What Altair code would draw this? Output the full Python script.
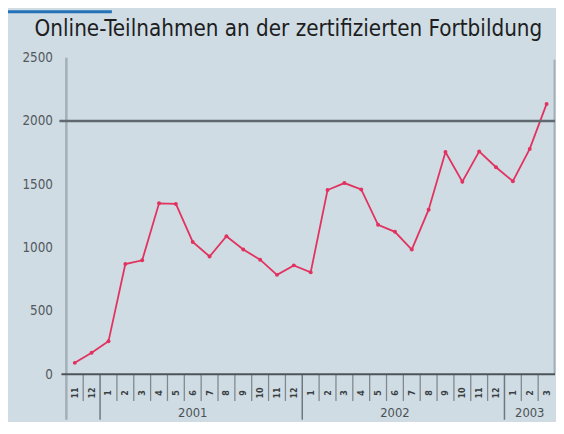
import altair as alt
import pandas as pd

# ---- data ----
month_labels = ["11", "12",
                "1", "2", "3", "4", "5", "6", "7", "8", "9", "10", "11", "12",
                "1", "2", "3", "4", "5", "6", "7", "8", "9", "10", "11", "12",
                "1", "2", "3"]
values = [90, 170,
          260, 870, 900, 1350, 1345, 1045, 930, 1090, 985, 905, 785, 860,
          805, 1455, 1510, 1460, 1180, 1125, 985, 1300, 1755, 1520, 1760, 1635,
          1525, 1780, 2135]
year_labels = ["2001", "2002", "2003"]
year_label_pos = [7, 19, 27]          # month index under which each year label sits
year_breaks = [1, 13, 25]             # index of last month before a new year
y_ticks = [0, 500, 1000, 1500, 2000, 2500]
reference_value = 2000
title_text = "Online-Teilnahmen an der zertifizierten Fortbildung"

# ---- tables ----
n = len(values)
df = pd.DataFrame({"idx": list(range(n)), "value": values, "month": month_labels})
sep = pd.DataFrame({"b": [i + 0.5 for i in range(n - 1)],
                    "long": [i in year_breaks for i in range(n - 1)]})
years = pd.DataFrame({"pos": year_label_pos, "year": year_labels})
ref = pd.DataFrame({"v": [reference_value]})
zero = pd.DataFrame({"v": [0]})
one = pd.DataFrame({"a": [0]})

W, H = 494, 320
BG = "#cfdce4"
LINE = "#e2325f"
FONT = "DejaVu Sans Condensed"

xscale = alt.Scale(domain=[-0.5, n - 0.5], nice=False, zero=False)
yscale = alt.Scale(domain=[0, 2500], nice=False)
yaxis = alt.Axis(values=y_ticks, format="d", grid=False, domain=False, ticks=False,
                 labelPadding=14, labelColor="#53595d", labelFontSize=13.5,
                 labelFont=FONT)

line = alt.Chart(df).mark_line(
    color=LINE, strokeWidth=1.8,
    point=alt.OverlayMarkDef(color=LINE, size=16, filled=True, opacity=1)
).encode(
    x=alt.X("idx:Q", scale=xscale, axis=None),
    y=alt.Y("value:Q", scale=yscale, title=None, axis=yaxis),
)

ref_rule = alt.Chart(ref).mark_rule(color="#5f696f", strokeWidth=2.5).encode(
    y=alt.Y("v:Q", scale=yscale, title=None, axis=yaxis),
    x=alt.value(-7), x2=alt.value(W),
)
zero_rule = alt.Chart(zero).mark_rule(color="#4c5458", strokeWidth=2).encode(
    y=alt.Y("v:Q", scale=yscale, title=None, axis=yaxis),
    x=alt.value(-5), x2=alt.value(W),
)
left_line = alt.Chart(one).mark_rule(color="#a3afb6", strokeWidth=2.5).encode(
    x=alt.value(0), y=alt.value(0), y2=alt.value(366),
)
right_line = alt.Chart(one).mark_rule(color="#a3afb6", strokeWidth=2).encode(
    x=alt.value(W - 0.5), y=alt.value(2), y2=alt.value(H),
)
short_ticks = alt.Chart(sep).transform_filter("!datum.long").mark_rule(
    color="#7f898f", strokeWidth=1.3).encode(
    x=alt.X("b:Q", scale=xscale, axis=None),
    y=alt.value(H), y2=alt.value(347),
)
long_ticks = alt.Chart(sep).transform_filter("datum.long").mark_rule(
    color="#6d777d", strokeWidth=1.5).encode(
    x=alt.X("b:Q", scale=xscale, axis=None),
    y=alt.value(H), y2=alt.value(366),
)
month_text = alt.Chart(df).mark_text(
    angle=270, fontSize=9, color="#3a3f42", align="center", baseline="middle",
    font=FONT, fontWeight="bold").encode(
    x=alt.X("idx:Q", scale=xscale, axis=None),
    y=alt.value(339),
    text="month:N",
)
year_text = alt.Chart(years).mark_text(
    fontSize=13, color="#4a5155", align="center", baseline="middle",
    font=FONT).encode(
    x=alt.X("pos:Q", scale=xscale, axis=None),
    y=alt.value(359),
    text="year:N",
)
title = alt.Chart(one).mark_text(
    text=title_text, fontSize=22.5, color="#1e1e1e", align="center",
    baseline="alphabetic", font=FONT).encode(
    x=alt.value(224.5), y=alt.value(-22),
)
blue_bar = alt.Chart(one).mark_rect(color="#2372b9").encode(
    x=alt.value(-59), x2=alt.value(46), y=alt.value(-48), y2=alt.value(-45),
)

chart = alt.layer(
    line, blue_bar, left_line, right_line, short_ticks, long_ticks,
    ref_rule, zero_rule, month_text, year_text, title,
).properties(
    width=W, height=H, background=BG,
    autosize=alt.AutoSizeParams(type="none"),
    padding={"left": 59, "top": 48, "right": 1, "bottom": 46},
).configure_view(strokeWidth=0)

chart.save("out.html", embed_options={"renderer": "svg", "actions": False})
